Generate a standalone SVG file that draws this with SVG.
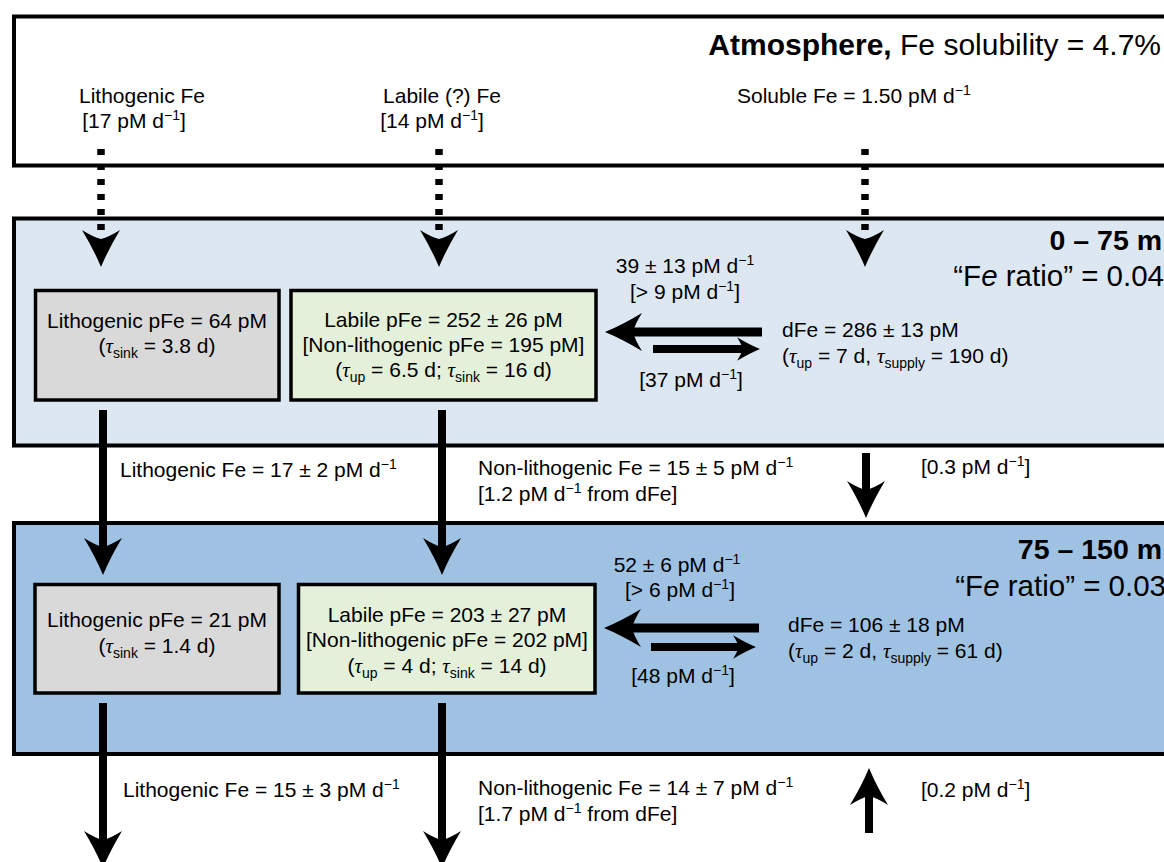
<svg xmlns="http://www.w3.org/2000/svg" xmlns:xlink="http://www.w3.org/1999/xlink" width="1164" height="862" viewBox="0 0 1164 862">
<style>
.t{font-family:"Liberation Sans",Arial,sans-serif;font-size:21px;fill:#000}
.big{font-size:30px}
.hdr{font-size:28.5px}
.ratio{font-size:29.5px}
.b{font-weight:bold}
.sup{font-size:14px}
.sub{font-size:14px}
.tau{font-family:"Liberation Serif","Times New Roman",serif;font-style:italic}
.i{font-style:italic}
.layer{stroke:#000;stroke-width:4}
.box{stroke:#000;stroke-width:3.5}
.gray{fill:#d9d9d9}
.green{fill:#e4f0da}
.shaft{stroke:#000;stroke-width:8;fill:none}
.dots{stroke:#000;stroke-width:7.5;stroke-dasharray:6 9;fill:none}
</style>
<defs>
<path id="head" d="M0,0 Q-7,-17 -19,-37 Q-8,-30 0,-28 Q8,-30 19,-37 Q7,-17 0,0 Z" fill="#000"/>
</defs>

<g id="atmosphere">
<rect class="layer" x="14" y="16.5" width="1170" height="149" fill="#ffffff"/>
<text class="t big" x="1161" y="55" text-anchor="end"><tspan class="b">Atmosphere,</tspan> Fe solubility = 4.7%</text>
</g>

<g id="layer-0-75">
<rect class="layer" x="14" y="218.5" width="1170" height="227" fill="#dde7f2"/>
<text class="t b hdr" x="1162" y="250" text-anchor="end">0 – 75 m</text>
<text class="t ratio" x="1164" y="286" text-anchor="end">“F<tspan class="i">e</tspan> ratio” = 0.04</text>
</g>

<g id="layer-75-150">
<rect class="layer" x="14" y="523" width="1170" height="231" fill="#9fc1e2"/>
<text class="t b hdr" x="1162" y="559" text-anchor="end">75 – 150 m</text>
<text class="t ratio" x="1166" y="596" text-anchor="end">“F<tspan class="i">e</tspan> ratio” = 0.03</text>
</g>

<g id="litho-pfe-1">
<rect class="box gray" x="35.5" y="290.5" width="243.5" height="109.5"/>
<text class="t" x="157" y="328" text-anchor="middle">Lithogenic pFe = 64 pM</text>
<text class="t" x="157" y="353" text-anchor="middle">(<tspan class="tau">τ</tspan><tspan class="sub" dy="5">sink</tspan><tspan dy="-5"> = 3.8 d)</tspan></text>
</g>

<g id="labile-pfe-1">
<rect class="box green" x="291" y="290.5" width="305" height="109.5"/>
<text class="t" x="443.5" y="327" text-anchor="middle">Labile pFe = 252 ± 26 pM</text>
<text class="t" x="443.5" y="352" text-anchor="middle">[Non-lithogenic pFe = 195 pM]</text>
<text class="t" x="443.5" y="377" text-anchor="middle">(<tspan class="tau">τ</tspan><tspan class="sub" dy="5">up</tspan><tspan dy="-5"> = 6.5 d; </tspan><tspan class="tau">τ</tspan><tspan class="sub" dy="5">sink</tspan><tspan dy="-5"> = 16 d)</tspan></text>
</g>

<g id="dfe-1">
<text class="t" x="782" y="337">dFe = 286 ± 13 pM</text>
<text class="t" x="782" y="363">(<tspan class="tau">τ</tspan><tspan class="sub" dy="5">up</tspan><tspan dy="-5"> = 7 d, </tspan><tspan class="tau">τ</tspan><tspan class="sub" dy="5">supply</tspan><tspan dy="-5"> = 190 d)</tspan></text>
</g>

<g id="litho-pfe-2">
<rect class="box gray" x="35" y="584.5" width="244" height="108.5"/>
<text class="t" x="157" y="627" text-anchor="middle">Lithogenic pFe = 21 pM</text>
<text class="t" x="157" y="653" text-anchor="middle">(<tspan class="tau">τ</tspan><tspan class="sub" dy="5">sink</tspan><tspan dy="-5"> = 1.4 d)</tspan></text>
</g>

<g id="labile-pfe-2">
<rect class="box green" x="298.5" y="584.5" width="296.5" height="108.5"/>
<text class="t" x="447" y="622" text-anchor="middle">Labile pFe = 203 ± 27 pM</text>
<text class="t" x="447" y="647" text-anchor="middle">[Non-lithogenic pFe = 202 pM]</text>
<text class="t" x="447" y="673" text-anchor="middle">(<tspan class="tau">τ</tspan><tspan class="sub" dy="5">up</tspan><tspan dy="-5"> = 4 d; </tspan><tspan class="tau">τ</tspan><tspan class="sub" dy="5">sink</tspan><tspan dy="-5"> = 14 d)</tspan></text>
</g>

<g id="dfe-2">
<text class="t" x="788" y="632">dFe = 106 ± 18 pM</text>
<text class="t" x="788" y="658">(<tspan class="tau">τ</tspan><tspan class="sub" dy="5">up</tspan><tspan dy="-5"> = 2 d, </tspan><tspan class="tau">τ</tspan><tspan class="sub" dy="5">supply</tspan><tspan dy="-5"> = 61 d)</tspan></text>
</g>

<g id="connectors">
<line class="dots" x1="101" y1="149" x2="101" y2="236"/>
<use xlink:href="#head" href="#head" transform="translate(101,267)"/>
<line class="dots" x1="439" y1="149" x2="439" y2="236"/>
<use xlink:href="#head" href="#head" transform="translate(439,267)"/>
<line class="dots" x1="865" y1="149" x2="865" y2="236"/>
<use xlink:href="#head" href="#head" transform="translate(865,267)"/>

<line class="shaft" x1="103" y1="410" x2="103" y2="548"/>
<use xlink:href="#head" href="#head" transform="translate(103,575)"/>
<line class="shaft" x1="442" y1="410" x2="442" y2="548"/>
<use xlink:href="#head" href="#head" transform="translate(442,575)"/>

<line class="shaft" x1="103" y1="703" x2="103" y2="842"/>
<use xlink:href="#head" href="#head" transform="translate(103,868)"/>
<line class="shaft" x1="442" y1="703" x2="442" y2="842"/>
<use xlink:href="#head" href="#head" transform="translate(442,868)"/>

<line class="shaft" x1="866" y1="453" x2="866" y2="492"/>
<use xlink:href="#head" href="#head" transform="translate(866,518)"/>
<line class="shaft" x1="869" y1="833" x2="869" y2="794"/>
<use xlink:href="#head" href="#head" transform="translate(869,768) rotate(180)"/>

<line stroke="#000" stroke-width="9" x1="630" y1="332" x2="762" y2="332"/>
<use xlink:href="#head" href="#head" transform="translate(605,332) rotate(90)"/>
<line stroke="#000" stroke-width="8" x1="653" y1="349" x2="747" y2="349"/>
<use xlink:href="#head" href="#head" transform="translate(760,349) rotate(-90) scale(0.62)"/>

<line stroke="#000" stroke-width="9" x1="629" y1="628" x2="759" y2="628"/>
<use xlink:href="#head" href="#head" transform="translate(604,628) rotate(90)"/>
<line stroke="#000" stroke-width="8" x1="651" y1="647" x2="743" y2="647"/>
<use xlink:href="#head" href="#head" transform="translate(756,647) rotate(-90) scale(0.62)"/>
</g>

<g id="labels">
<text class="t" x="142" y="103" text-anchor="middle">Lithogenic Fe</text>
<text class="t" x="134" y="128" text-anchor="middle">[17 pM d<tspan class="sup" dy="-8">−1</tspan><tspan dy="8">]</tspan></text>
<text class="t" x="442" y="103" text-anchor="middle">Labile (?) Fe</text>
<text class="t" x="432" y="128" text-anchor="middle">[14 pM d<tspan class="sup" dy="-8">−1</tspan><tspan dy="8">]</tspan></text>
<text class="t" x="737" y="103">Soluble Fe = 1.50 pM d<tspan class="sup" dy="-8">−1</tspan></text>

<text class="t" x="685" y="273" text-anchor="middle">39 ± 13 pM d<tspan class="sup" dy="-8">−1</tspan></text>
<text class="t" x="685" y="299" text-anchor="middle">[&gt; 9 pM d<tspan class="sup" dy="-8">−1</tspan><tspan dy="8">]</tspan></text>
<text class="t" x="691" y="387" text-anchor="middle">[37 pM d<tspan class="sup" dy="-8">−1</tspan><tspan dy="8">]</tspan></text>

<text class="t" x="677" y="572" text-anchor="middle">52 ± 6 pM d<tspan class="sup" dy="-8">−1</tspan></text>
<text class="t" x="680" y="597" text-anchor="middle">[&gt; 6 pM d<tspan class="sup" dy="-8">−1</tspan><tspan dy="8">]</tspan></text>
<text class="t" x="683" y="683" text-anchor="middle">[48 pM d<tspan class="sup" dy="-8">−1</tspan><tspan dy="8">]</tspan></text>

<text class="t" x="120" y="477">Lithogenic Fe = 17 ± 2 pM d<tspan class="sup" dy="-8">−1</tspan></text>
<text class="t" x="478" y="475">Non-lithogenic Fe = 15 ± 5 pM d<tspan class="sup" dy="-8">−1</tspan></text>
<text class="t" x="478" y="501">[1.2 pM d<tspan class="sup" dy="-8">−1</tspan><tspan dy="8"> from dFe]</tspan></text>
<text class="t" x="921" y="474">[0.3 pM d<tspan class="sup" dy="-8">−1</tspan><tspan dy="8">]</tspan></text>

<text class="t" x="123" y="797">Lithogenic Fe = 15 ± 3 pM d<tspan class="sup" dy="-8">−1</tspan></text>
<text class="t" x="478" y="795">Non-lithogenic Fe = 14 ± 7 pM d<tspan class="sup" dy="-8">−1</tspan></text>
<text class="t" x="478" y="821">[1.7 pM d<tspan class="sup" dy="-8">−1</tspan><tspan dy="8"> from dFe]</tspan></text>
<text class="t" x="921" y="797">[0.2 pM d<tspan class="sup" dy="-8">−1</tspan><tspan dy="8">]</tspan></text>
</g>
</svg>
